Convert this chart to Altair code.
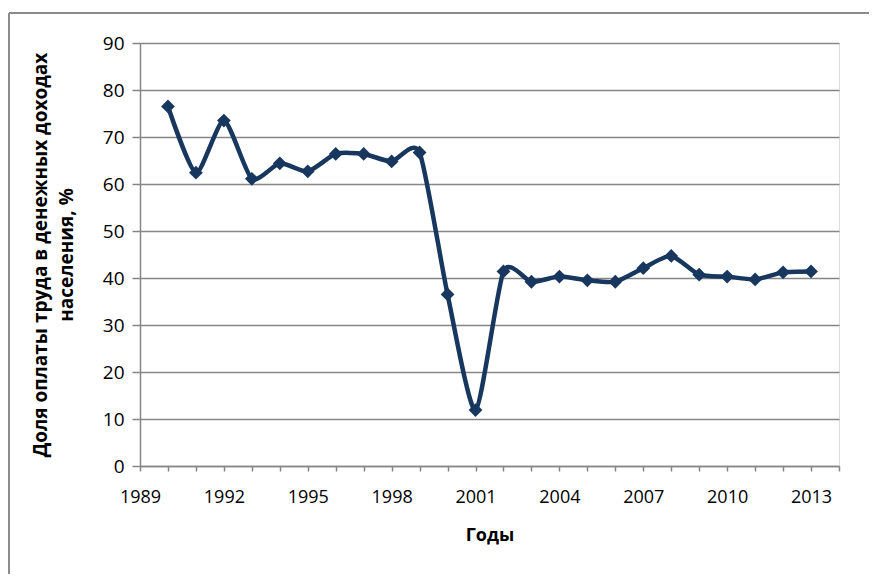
import altair as alt
import pandas as pd

years = list(range(1990, 2014))
share = [76.5, 62.4, 73.5, 61.1, 64.4, 62.7, 66.4, 66.4, 64.8, 66.7,
         36.5, 11.9, 41.4, 39.2, 40.3, 39.5, 39.2, 42.1, 44.7, 40.7,
         40.3, 39.7, 41.2, 41.4]
y_ticks = [0, 10, 20, 30, 40, 50, 60, 70, 80, 90]
x_ticks = list(range(1989, 2015))

df = pd.DataFrame({"year": years, "share": share})

FONT = "Open Sans"
LINE = "#17375E"
GRID = "#868686"

x_enc = alt.X(
    "year:Q",
    scale=alt.Scale(domain=[1989, 2014], nice=False, zero=False),
    axis=alt.Axis(
        title="Годы",
        values=x_ticks,
        tickCount=len(x_ticks),
        format="d",
        labelExpr="(datum.value - 1989) % 3 == 0 ? datum.label : ''",
        grid=False,
        domainColor=GRID,
        domainWidth=1.5,
        tickColor=GRID,
        tickWidth=1.5,
        tickSize=5,
        labelPadding=17,
        labelFont=FONT,
        labelFontSize=18,
        labelColor="black",
        labelFlush=False,
        labelOverlap=False,
        titleFont=FONT,
        titleFontSize=18,
        titleFontWeight="bold",
        titleColor="black",
        titlePadding=20,
    ),
)
y_enc = alt.Y(
    "share:Q",
    scale=alt.Scale(domain=[0, 90], nice=False),
    axis=alt.Axis(
        title=["Доля оплаты труда в денежных доходах", "населения, %"],
        values=y_ticks,
        tickCount=len(y_ticks),
        grid=True,
        gridColor=GRID,
        gridWidth=1.5,
        domainColor=GRID,
        domainWidth=1.5,
        tickColor=GRID,
        tickWidth=1.5,
        tickSize=8,
        labelPadding=8,
        labelFont=FONT,
        labelFontSize=19,
        labelColor="black",
        titleFont=FONT,
        titleFontSize=19,
        titleFontWeight="bold",
        titleColor="black",
        titlePadding=26,
        titleLineHeight=26,
    ),
)

line = alt.Chart(df).mark_line(
    color=LINE, strokeWidth=4.5, interpolate="cardinal", tension=0.35
).encode(x=x_enc, y=y_enc)

points = alt.Chart(df).mark_point(
    shape="diamond", filled=True, color=LINE, size=190, opacity=1
).encode(x="year:Q", y="share:Q")

one = pd.DataFrame({"k": [0]})
frame_left = alt.Chart(one).mark_rule(color="#8c8c8c", strokeWidth=2).encode(
    x=alt.value(-131), y=alt.value(-30), y2=alt.value(700)
)
frame_top = alt.Chart(one).mark_rule(color="#8c8c8c", strokeWidth=2).encode(
    x=alt.value(-131), x2=alt.value(729), y=alt.value(-30)
)

chart = alt.layer(frame_left, frame_top, line, points).properties(
    width=699,
    height=423,
    autosize=alt.AutoSizeParams(type="none"),
    padding={"left": 132, "top": 35, "right": 30, "bottom": 108},
).configure_view(stroke=None).configure(background="white")

chart.save("out.html", embed_options={"renderer": "svg", "actions": False})
